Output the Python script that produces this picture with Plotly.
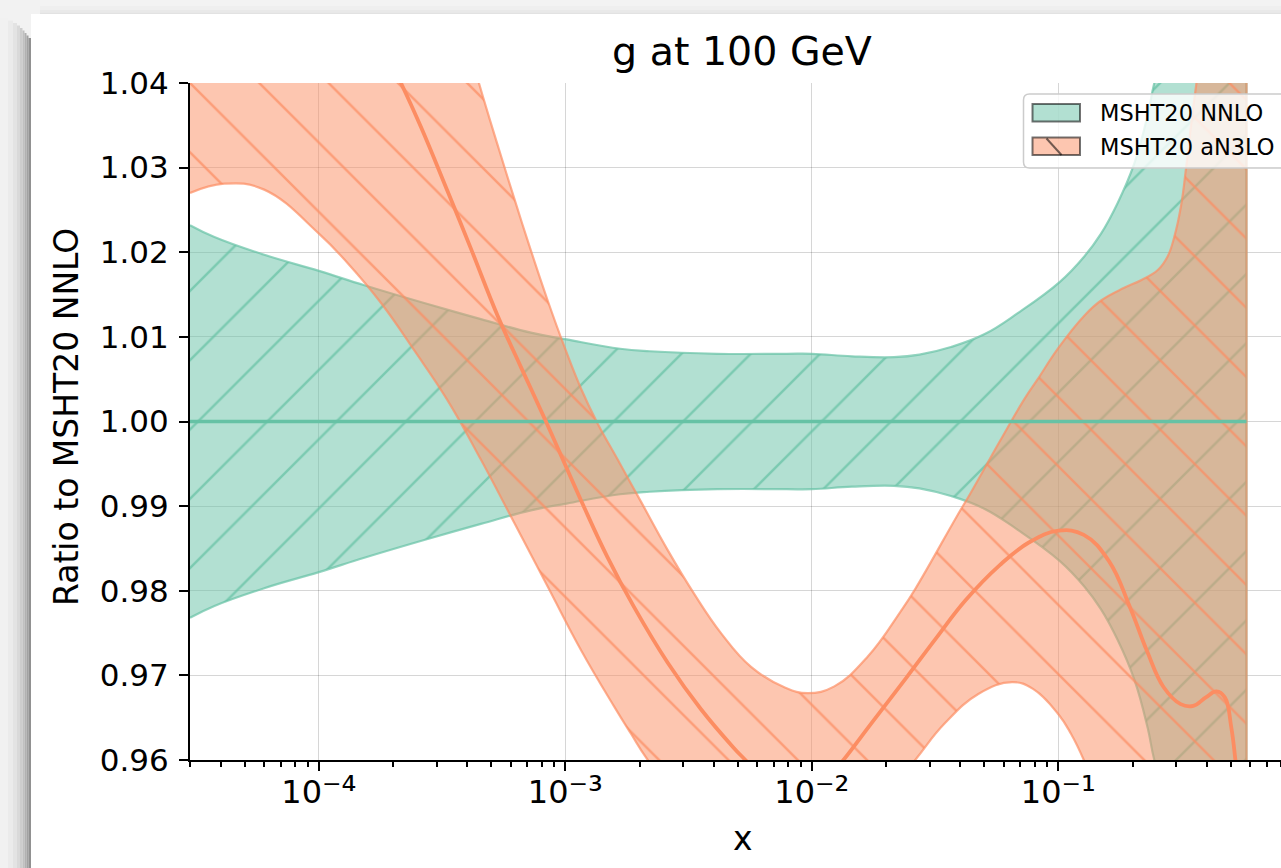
import plotly.graph_objects as go

# ---------------- data ----------------
# MSHT20 NNLO band (ratio to itself): log10(x) positions, upper / lower edges
nnlo_log10x = [-4.523, -4.424, -4.222, -4.0, -3.816, -3.573, -3.343, -3.14, -2.995, -2.778,
               -2.658, -2.385, -2.103, -2.0, -1.838, -1.667, -1.564, -1.436, -1.301, -1.165,
               -0.994, -0.895, -0.827, -0.760, -0.692, -0.638, -0.611, -0.55, -0.45, -0.35, -0.237]
nnlo_upper = [1.0232, 1.0218, 1.0197, 1.0178, 1.0161, 1.0140, 1.0121, 1.0105, 1.0097, 1.0086,
              1.0083, 1.0080, 1.0080, 1.0080, 1.0077, 1.0076, 1.0079, 1.0088, 1.0103, 1.0128,
              1.0165, 1.0195, 1.0222, 1.0258, 1.0305, 1.0362, 1.0400, 1.0460, 1.0570, 1.0700, 1.0880]
nnlo_lower = [0.9768, 0.9782, 0.9803, 0.9822, 0.9839, 0.9860, 0.9879, 0.9895, 0.9903, 0.9914,
              0.9917, 0.9920, 0.9920, 0.9920, 0.9923, 0.9924, 0.9921, 0.9912, 0.9897, 0.9872,
              0.9835, 0.9805, 0.9778, 0.9742, 0.9695, 0.9638, 0.9600, 0.9540, 0.9430, 0.9300, 0.9120]
nnlo_central_log10x = [-4.523, -0.237]
nnlo_central = [1.0, 1.0]

# MSHT20 aN3LO central curve
an3lo_c_log10x = [-4.523, -4.3, -4.0, -3.8, -3.667, -3.586, -3.478, -3.383, -3.275, -3.18,
                  -3.079, -2.937, -2.83, -2.722, -2.585, -2.45, -2.316, -2.27, -2.2, -2.07,
                  -1.95, -1.872, -1.752, -1.615, -1.496, -1.376, -1.239, -1.12, -1.0, -0.897,
                  -0.795, -0.709, -0.641, -0.573, -0.504, -0.453, -0.402, -0.359, -0.325, -0.299,
                  -0.282, -0.26, -0.237]
an3lo_central = [1.075, 1.070, 1.058, 1.048, 1.040, 1.0348, 1.0272, 1.0204, 1.0125, 1.0064,
                 1.0000, 0.9907, 0.9840, 0.9781, 0.9715, 0.9660, 0.9614, 0.9600, 0.9578, 0.9562,
                 0.9572, 0.9600, 0.9646, 0.9698, 0.9744, 0.9789, 0.9830, 0.9857, 0.9871, 0.9866,
                 0.9835, 0.9780, 0.9729, 0.9686, 0.9666, 0.9664, 0.9674, 0.9681, 0.9674, 0.9639,
                 0.9600, 0.9540, 0.9480]

# MSHT20 aN3LO band upper edge
an3lo_up_log10x = [-4.523, -4.2, -4.0, -3.8, -3.6, -3.5, -3.351, -3.27, -3.207, -3.14,
                   -3.072, -3.005, -2.937, -2.87, -2.788, -2.693, -2.585, -2.477, -2.369, -2.247,
                   -2.112, -2.017, -1.909, -1.774, -1.639, -1.581, -1.41, -1.359, -1.239, -1.137,
                   -1.084, -1.0, -0.895, -0.827, -0.733, -0.665, -0.597, -0.557, -0.530, -0.503,
                   -0.482, -0.462, -0.44, -0.4, -0.3, -0.237]
an3lo_upper = [1.120, 1.110, 1.095, 1.080, 1.065, 1.0555, 1.0400, 1.0322, 1.0263, 1.0202,
               1.0143, 1.0089, 1.0039, 0.9998, 0.9955, 0.9905, 0.9848, 0.9796, 0.9750, 0.9710,
               0.9686, 0.9679, 0.9687, 0.9722, 0.9776, 0.9802, 0.9889, 0.9914, 0.9976, 1.0027,
               1.0050, 1.0087, 1.0125, 1.0143, 1.0158, 1.0167, 1.0179, 1.0195, 1.0218, 1.0254,
               1.0300, 1.0350, 1.0400, 1.0480, 1.0620, 1.0700]

# MSHT20 aN3LO band lower edge
an3lo_lo_log10x = [-4.523, -4.384, -4.222, -4.0, -3.883, -3.748, -3.613, -3.478, -3.343, -3.207,
                   -3.072, -2.937, -2.802, -2.734, -2.666, -2.4, -2.1, -1.85, -1.581, -1.462,
                   -1.325, -1.188, -1.103, -1.0, -0.949, -0.897, -0.7, -0.5, -0.237]
an3lo_lower = [1.0270, 1.0281, 1.0274, 1.0222, 1.0187, 1.0140, 1.0084, 1.0025, 0.9955, 0.9880,
               0.9805, 0.9730, 0.9663, 0.9631, 0.9600, 0.9500, 0.9450, 0.9500, 0.9600, 0.9643,
               0.9678, 0.9692, 0.9684, 0.9654, 0.9631, 0.9600, 0.9450, 0.9300, 0.9100]

series_names = ["MSHT20 NNLO", "MSHT20 aN3LO"]
y_ticks = [0.96, 0.97, 0.98, 0.99, 1.00, 1.01, 1.02, 1.03, 1.04]
x_tick_vals = [1e-4, 1e-3, 1e-2, 1e-1]
x_tick_exponents = ["\u207b\u2074", "\u207b\u00b3", "\u207b\u00b2", "\u207b\u00b9"]

# ---------------- layout geometry ----------------
W, H = 1281, 868
ML, MR, MT, MB = 190, 0, 83, 108
PW, PH = W - ML - MR, H - MT - MB


def fx(px):
    return (px - ML) / PW


def fy(py):
    return (H - MB - py) / PH


def to_x(arr):
    return [10 ** v for v in arr]


GREEN_RGB = "102,194,165"
ORANGE_RGB = "252,141,98"
FONT = "DejaVu Sans"
SMOOTH = 1.2

fig = go.Figure()


def add_band(lx_lo, lo, lx_up, up, rgb, hatch):
    edge = f"rgba({rgb},0.7)"
    fig.add_trace(go.Scatter(
        x=to_x(lx_lo), y=lo, mode="lines",
        line=dict(color=edge, width=2.2, shape="spline", smoothing=SMOOTH),
        hoverinfo="skip", showlegend=False))
    fig.add_trace(go.Scatter(
        x=to_x(lx_up), y=up, mode="lines", fill="tonexty",
        fillpattern=dict(shape=hatch, size=49, solidity=0.05, fillmode="replace",
                         bgcolor=f"rgba({rgb},0.5)", fgcolor=f"rgba({rgb},0.72)"),
        line=dict(color=edge, width=2.2, shape="spline", smoothing=SMOOTH),
        hoverinfo="skip", showlegend=False))


add_band(nnlo_log10x, nnlo_lower, nnlo_log10x, nnlo_upper, GREEN_RGB, "/")
add_band(an3lo_lo_log10x, an3lo_lower, an3lo_up_log10x, an3lo_upper, ORANGE_RGB, "\\")

# closing vertical edges of the bands at the last x
fig.add_trace(go.Scatter(x=to_x([nnlo_log10x[-1]] * 2), y=[nnlo_lower[-1], nnlo_upper[-1]],
                         mode="lines", line=dict(color=f"rgba({GREEN_RGB},0.7)", width=2.2),
                         hoverinfo="skip", showlegend=False))
fig.add_trace(go.Scatter(x=to_x([an3lo_up_log10x[-1]] * 2), y=[an3lo_lower[-1], an3lo_upper[-1]],
                         mode="lines", line=dict(color=f"rgba({ORANGE_RGB},0.7)", width=2.2),
                         hoverinfo="skip", showlegend=False))

# central lines
fig.add_trace(go.Scatter(x=to_x(nnlo_central_log10x), y=nnlo_central, mode="lines",
                         line=dict(color=f"rgb({GREEN_RGB})", width=3.6),
                         hoverinfo="skip", showlegend=False))
fig.add_trace(go.Scatter(x=to_x(an3lo_c_log10x), y=an3lo_central, mode="lines",
                         line=dict(color=f"rgb({ORANGE_RGB})", width=3.8, shape="spline", smoothing=SMOOTH),
                         hoverinfo="skip", showlegend=False))

# ---------------- decorations (page, shadow, legend) ----------------
shapes = []
# white sheet
shapes.append(dict(type="rect", xref="paper", yref="paper", layer="below",
                   x0=fx(31), x1=fx(W + 20), y0=fy(14), y1=fy(H + 20),
                   fillcolor="white", line=dict(width=0)))
# left shadow gradient
left_steps = [(0, 8, "#f1f1f1"), (8, 13, "#ebebeb"), (13, 17, "#e3e3e3"), (17, 20, "#d9d9d9"),
              (20, 22.5, "#cdcdcd"), (22.5, 24.5, "#c0c0c0"), (24.5, 26.5, "#b1b1b1"),
              (26.5, 28.5, "#a2a2a2"), (28.5, 31, "#919191")]
for i, (a, b, c) in enumerate(left_steps):
    shapes.append(dict(type="rect", xref="paper", yref="paper", layer="below",
                       x0=fx(a), x1=fx(b), y0=fy(18 + 2.5 * i), y1=fy(H + 20),
                       fillcolor=c, line=dict(width=0)))
# top shadow gradient
top_steps = [(0, 6, "#f3f3f3"), (6, 10, "#efefef"), (10, 12.5, "#e9e9e9"), (12.5, 14, "#e2e2e2")]
for a, b, c in top_steps:
    shapes.append(dict(type="rect", xref="paper", yref="paper", layer="below",
                       x0=fx(40), x1=fx(W + 20), y0=fy(b), y1=fy(a),
                       fillcolor=c, line=dict(width=0)))

# legend frame (rounded, cut at the right edge)
bx0, bx1, by0, by1, r = 1023.5, 1300, 94, 168, 6
pts = (f"M {fx(bx0 + r)},{fy(by0)} L {fx(bx1 - r)},{fy(by0)} "
       f"Q {fx(bx1)},{fy(by0)} {fx(bx1)},{fy(by0 + r)} L {fx(bx1)},{fy(by1 - r)} "
       f"Q {fx(bx1)},{fy(by1)} {fx(bx1 - r)},{fy(by1)} L {fx(bx0 + r)},{fy(by1)} "
       f"Q {fx(bx0)},{fy(by1)} {fx(bx0)},{fy(by1 - r)} L {fx(bx0)},{fy(by0 + r)} "
       f"Q {fx(bx0)},{fy(by0)} {fx(bx0 + r)},{fy(by0)} Z")
shapes.append(dict(type="path", xref="paper", yref="paper", path=pts,
                   fillcolor="rgba(255,255,255,0.8)", line=dict(color="#cccccc", width=1.5)))
# legend patches
for (py0, py1), rgb in [((104, 121.5), GREEN_RGB), ((137.5, 155), ORANGE_RGB)]:
    shapes.append(dict(type="rect", xref="paper", yref="paper",
                       x0=fx(1032.5), x1=fx(1080), y0=fy(py1), y1=fy(py0),
                       fillcolor=f"rgba({rgb},0.5)", line=dict(color="rgba(0,0,0,0.55)", width=2)))
shapes.append(dict(type="line", xref="paper", yref="paper",
                   x0=fx(1046.5), y0=fy(138.5), x1=fx(1061.5), y1=fy(155),
                   line=dict(color="rgba(0,0,0,0.55)", width=2)))

annotations = [
    dict(text=series_names[0], xref="paper", yref="paper", x=fx(1097.5), y=fy(113),
         xanchor="left", yanchor="middle", showarrow=False, font=dict(family=FONT, size=22.5, color="black")),
    dict(text=series_names[1], xref="paper", yref="paper", x=fx(1097.5), y=fy(146.5),
         xanchor="left", yanchor="middle", showarrow=False, font=dict(family=FONT, size=22.5, color="black")),
    dict(text="x", xref="paper", yref="paper", x=fx(743), y=fy(838),
         xanchor="center", yanchor="middle", showarrow=False, font=dict(family=FONT, size=33, color="black")),
    dict(text="Ratio to MSHT20 NNLO", xref="paper", yref="paper", x=fx(66), y=fy(417),
         xanchor="center", yanchor="middle", textangle=-90, showarrow=False,
         font=dict(family=FONT, size=33, color="black")),
]

fig.update_layout(
    width=W, height=H,
    margin=dict(l=ML, r=MR, t=MT, b=MB, pad=0, autoexpand=False),
    paper_bgcolor="#f2f2f2", plot_bgcolor="white",
    showlegend=False,
    title=dict(text="g at 100 GeV", x=742 / W, y=1 - 51 / H, xref="container", yref="container",
               xanchor="center", yanchor="middle", font=dict(family=FONT, size=39.5, color="black")),
    font=dict(family=FONT, color="black"),
    shapes=shapes, annotations=annotations,
)

fig.update_xaxes(
    type="log", range=[-4.523, -4.523 + PW / 246.5],
    tickmode="array", tickvals=x_tick_vals,
    ticktext=["10<span style='font-size:37px'>" + e + "</span>" for e in x_tick_exponents],
    showline=True, linecolor="black", linewidth=2, mirror=False,
    ticks="outside", ticklen=9, tickwidth=2, tickcolor="black",
    tickfont=dict(family=FONT, size=32, color="black"), ticklabelstandoff=-6,
    showgrid=True, gridcolor="rgba(0,0,0,0.16)", gridwidth=1.2, zeroline=False,
    minor=dict(ticks="outside", ticklen=5, tickwidth=1.5, tickcolor="black", dtick="D1", showgrid=False),
    automargin=False,
)
fig.update_yaxes(
    range=[0.96, 1.04], tickvals=y_ticks, tickformat=".2f",
    showline=True, linecolor="black", linewidth=2, mirror=False,
    ticks="outside", ticklen=9, tickwidth=2, tickcolor="black",
    tickfont=dict(family=FONT, size=31, color="black"), ticklabelstandoff=4,
    showgrid=True, gridcolor="rgba(0,0,0,0.16)", gridwidth=1.2, zeroline=False,
    automargin=False,
)

fig.write_html("out.html")
